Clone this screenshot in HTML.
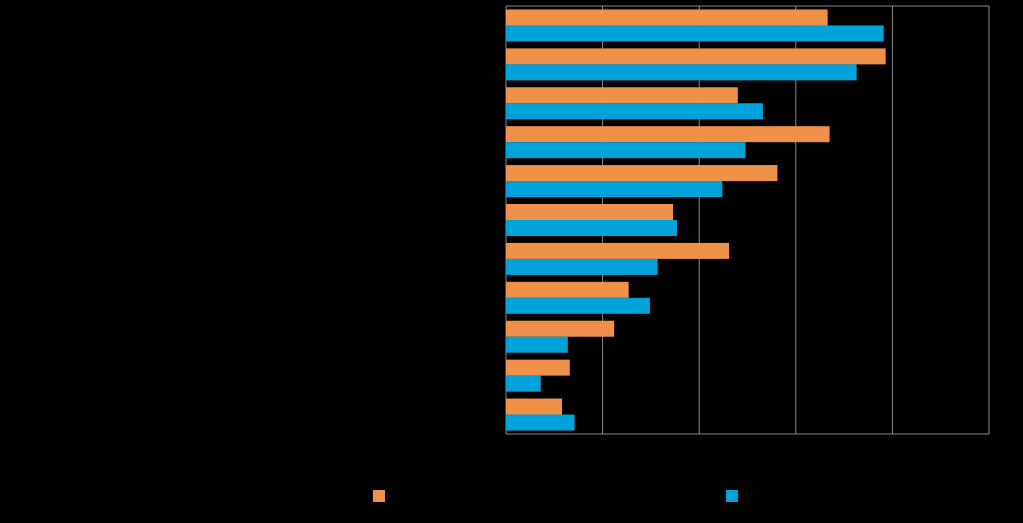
<!DOCTYPE html>
<html><head><meta charset="utf-8"><style>
html,body{margin:0;padding:0;background:#000;width:1023px;height:523px;overflow:hidden;font-family:"Liberation Sans",sans-serif;}
</style></head><body>
<svg id="chart" width="1023" height="523" xmlns="http://www.w3.org/2000/svg"></svg>
<script>
const categories=["Item 1","Item 2","Item 3","Item 4","Item 5","Item 6","Item 7","Item 8","Item 9","Item 10","Item 11"];
const seriesA=[33.3,39.3,24.0,33.5,28.1,17.3,23.1,12.7,11.2,6.6,5.8];
const seriesB=[39.1,36.3,26.6,24.8,22.4,17.7,15.7,14.9,6.4,3.6,7.1];
const ticks=[0,10,20,30,40,50];
const NS="http://www.w3.org/2000/svg";
const svgEl=document.getElementById('chart');
const px0=506,px1=989,py0=6,py1=434,xmax=50;
const xs=v=>px0+(v/xmax)*(px1-px0);
const band=(py1-py0)/categories.length;
function mk(tag,attrs){const e=document.createElementNS(NS,tag);for(const k in attrs)e.setAttribute(k,attrs[k]);svgEl.appendChild(e);return e;}
ticks.forEach((t)=>{
  const g=mk('line',{x1:xs(t),x2:xs(t),y1:py0,y2:py1,stroke:'#8a8a8a','stroke-width':1});
  
  
  const l=mk('text',{x:xs(t),y:py1+18,'text-anchor':'middle','font-size':12,fill:'#000'});
  l.textContent=t;
  
  
});
const borderTop=mk('line',{x1:px0,x2:px1,y1:py0,y2:py0,stroke:'#8a8a8a','stroke-width':1});


const axisBottom=mk('line',{x1:px0,x2:px1,y1:py1,y2:py1,stroke:'#8a8a8a','stroke-width':1});


categories.forEach((c,i)=>{
  const yb=py0+i*band;
  const bh=16;
  const ya=yb+(band-2*bh)/2;
  const a=mk('rect',{x:px0,y:ya,width:xs(seriesA[i])-px0,height:bh,fill:'#F0914A'});
  
  
  const b=mk('rect',{x:px0,y:ya+bh,width:xs(seriesB[i])-px0,height:bh,fill:'#00A3D9'});
  
  
  const t=mk('text',{x:px0-8,y:yb+band/2+4,'text-anchor':'end','font-size':12,fill:'#000'});
  t.textContent=c;
  
  
});
const la=mk('rect',{x:373,y:490,width:12,height:12,fill:'#F0914A'});


const lb=mk('rect',{x:726,y:490,width:12,height:12,fill:'#00A3D9'});


</script>
</body></html>
